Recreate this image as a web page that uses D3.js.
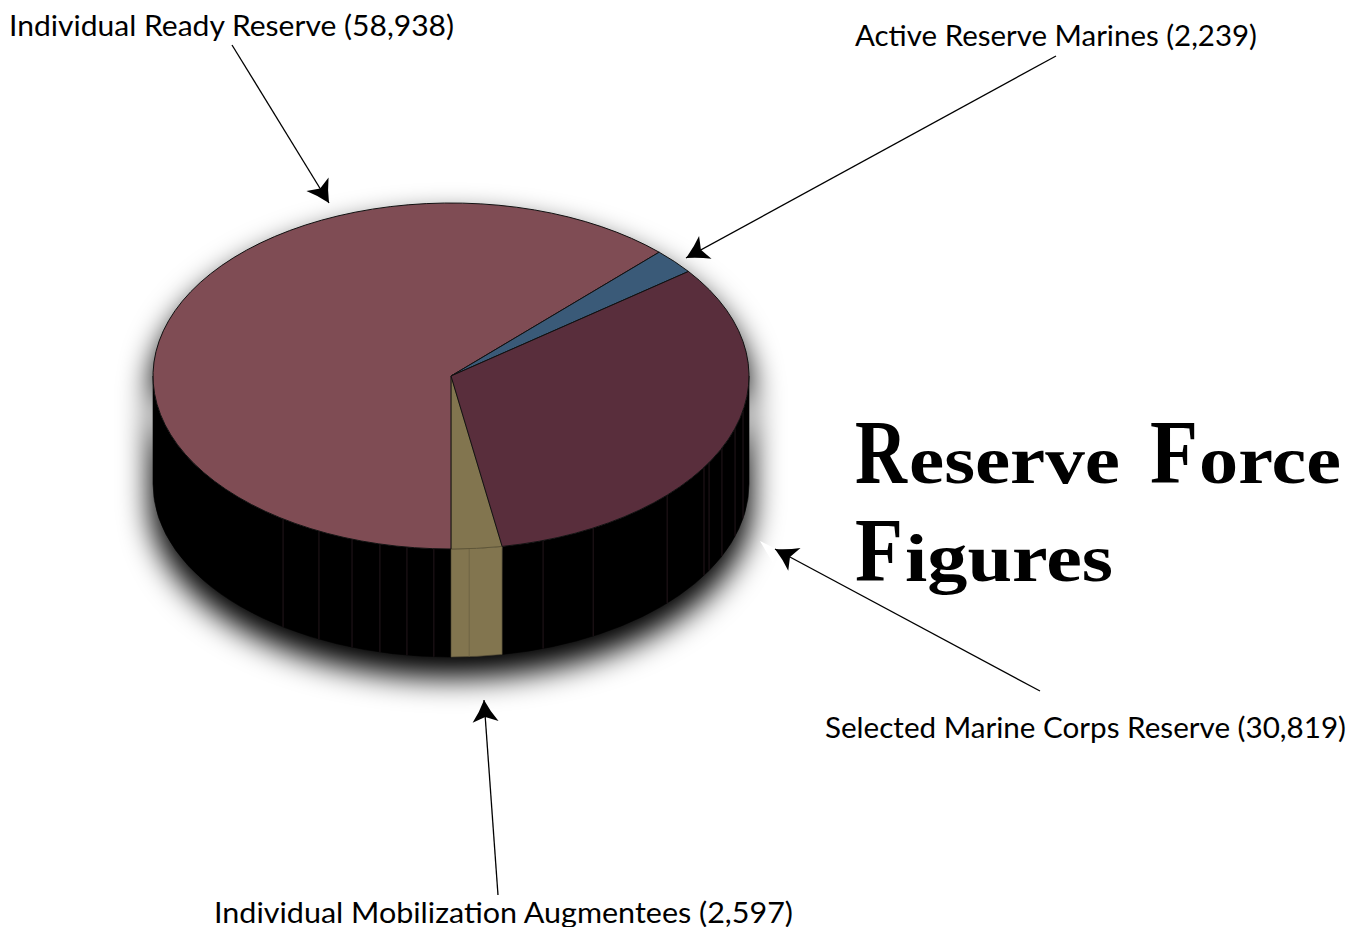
<!DOCTYPE html>
<html>
<head>
<meta charset="utf-8">
<title>Reserve Force Figures</title>
<script src="https://cdn.jsdelivr.net/npm/d3@7"></script>
<style>
  html, body { margin: 0; padding: 0; background: #fff; overflow: hidden; }
  svg { display: block; }
  .label { font-family: Lato, "Noto Sans", sans-serif; fill: #000; }
  .title { font-family: "Liberation Serif", serif; font-weight: bold; fill: #000; }
</style>
</head>
<body>
<div id="chart"></div>
<script>
// slice data, in the order they run clockwise from the bottom of the pie
const names = ['Individual Ready Reserve', 'Active Reserve Marines', 'Selected Marine Corps Reserve', 'Individual Mobilization Augmentees'];
const values = [58938, 2239, 30819, 2597];
const colors = ['#7f4c54', '#3a5a78', '#592e3c', '#82754f'];

// faint panel seams on the wall, degrees clockwise from the top of the pie
const seamAngles = [101.5, 107.6, 114.6, 120, 121.9, 133.5, 151.5, 162, 176.5, 183.3, 188.5, 193.8, 199.4, 206.3, 214.3];

// layout
const width = 1357, height = 927;
const cx = 451, cy = 376, rx = 298, ry = 173, depth = 108;

// label text position + the arrow that belongs to it
const callouts = [
    {index: 0, x: 9, y: 36, len: 445, from: [232, 45], tip: [329, 203]},
    {index: 1, x: 855, y: 46, len: 402, from: [1056, 56], tip: [686, 258]},
    {index: 2, x: 825, y: 738, len: 521, from: [1040, 691], tip: [775, 549]},
    {index: 3, x: 214, y: 923, len: 579, from: [498, 895], tip: [484, 700]}
];

// title is set in runs, big capitals and a smaller run after them
const titleRuns = [
    {text: 'R', x: 855, y: 483, len: 52, size: 90},
    {text: 'eserve', x: 909, y: 483, len: 211, size: 68},
    {text: 'F', x: 1150, y: 483, len: 48, size: 90},
    {text: 'orce', x: 1199, y: 483, len: 142, size: 68},
    {text: 'F', x: 855, y: 581, len: 48, size: 90},
    {text: 'igures', x: 905, y: 581, len: 208, size: 68}
];

const svg = d3.select("#chart").append("svg")
    .attr("width", width)
    .attr("height", height);

const blur = svg.append("defs").append("filter")
    .attr("id", "shadow")
    .attr("x", "-20%").attr("y", "-20%")
    .attr("width", "140%").attr("height", "140%");
blur.append("feGaussianBlur").attr("stdDeviation", 15);

const arcs = d3.pie().sort(null).startAngle(Math.PI).endAngle(3 * Math.PI)(values);

// point on the rim for an angle measured clockwise from the top
function rim(angle, drop) {
    return [cx + rx * Math.sin(angle), cy - ry * Math.cos(angle) + drop];
}

// wall between two angles (a1 > a0), runs along the front of the pie
function wallPath(a0, a1) {
    const tl = rim(a0, 0), tr = rim(a1, 0), bl = rim(a0, depth), br = rim(a1, depth);
    return "M" + tl + "A" + rx + "," + ry + " 0 0 1 " + tr +
        "L" + br + "A" + rx + "," + ry + " 0 0 0 " + bl + "Z";
}

// shadow is the whole outline of the pie, blurred and dropped a little
svg.append("path")
    .attr("d", wallPath(Math.PI / 2, 3 * Math.PI / 2) +
        "M" + rim(Math.PI / 2, 0) + "A" + rx + "," + ry + " 0 0 0 " + rim(3 * Math.PI / 2, 0) + "Z")
    .attr("transform", "translate(0,18)")
    .attr("fill", "#000")
    .attr("stroke", "#000")
    .attr("stroke-width", 6)
    .attr("filter", "url(#shadow)");

// walls, only the part of each slice that faces the front
const walls = svg.append("g").attr("id", "walls");
arcs.forEach((d, i) => {
    for (const k of [0, 2]) {
        const a0 = Math.max(d.startAngle, Math.PI / 2 + k * Math.PI);
        const a1 = Math.min(d.endAngle, 3 * Math.PI / 2 + k * Math.PI);
        if (a1 <= a0) continue;
        walls.append("path")
            .attr("d", wallPath(a0, a1))
            .attr("fill", i === 3 ? colors[3] : "#000")
            .attr("stroke", i === 3 ? "#4a4330" : "#000")
            .attr("stroke-width", 0.6);
    }
});

walls.selectAll("line.seam")
    .data(seamAngles)
    .enter()
    .append("line")
    .attr("class", "seam")
    .attr("x1", d => rim(d * Math.PI / 180, 0)[0])
    .attr("y1", d => rim(d * Math.PI / 180, 0)[1])
    .attr("x2", d => rim(d * Math.PI / 180, depth)[0])
    .attr("y2", d => rim(d * Math.PI / 180, depth)[1])
    .attr("stroke", d => d === 176.5 ? "#6a5f42" : "#2c1c22")
    .attr("stroke-width", 0.8);

// top face, d3.arc squashed into an ellipse. tan goes first so its neighbour's edge stays dark
const arc = d3.arc().innerRadius(0).outerRadius(rx);
svg.append("g")
    .attr("id", "top")
    .attr("transform", "translate(" + cx + "," + cy + ") scale(1," + (ry / rx) + ")")
    .selectAll("path")
    .data([arcs[3], arcs[0], arcs[1], arcs[2]])
    .enter()
    .append("path")
    .attr("d", arc)
    .attr("fill", d => colors[d.index])
    .attr("stroke", d => d.index === 3 ? "#5f5638" : "#111")
    .attr("stroke-width", 1)
    .attr("vector-effect", "non-scaling-stroke");

// white sliver left over next to the selected reserve arrow
svg.append("polygon")
    .attr("points", "760,541 776,549 773,563")
    .attr("fill", "#fff");

// arrows
function arrowHead(from, tip) {
    const dx = from[0] - tip[0], dy = from[1] - tip[1];
    const n = Math.hypot(dx, dy), ux = dx / n, uy = dy / n;
    const pt = (along, side) => [tip[0] + ux * along - uy * side, tip[1] + uy * along + ux * side];
    return "M" + pt(0, 0) + "Q" + pt(12, 5.5) + " " + pt(22, 13) + "L" + pt(17, 0) +
        "L" + pt(22, -13) + "Q" + pt(12, -5.5) + " " + pt(0, 0) + "Z";
}

const arrows = svg.append("g").attr("id", "arrows");
arrows.selectAll("line")
    .data(callouts)
    .enter()
    .append("line")
    .attr("x1", d => d.from[0])
    .attr("y1", d => d.from[1])
    .attr("x2", d => d.tip[0])
    .attr("y2", d => d.tip[1])
    .attr("stroke", "#000")
    .attr("stroke-width", 1.3);
arrows.selectAll("path")
    .data(callouts)
    .enter()
    .append("path")
    .attr("d", d => arrowHead(d.from, d.tip))
    .attr("fill", "#000");

// labels
svg.selectAll("text.label")
    .data(callouts)
    .enter()
    .append("text")
    .attr("class", "label")
    .attr("x", d => d.x)
    .attr("y", d => d.y)
    .attr("font-size", 28.5)
    .attr("textLength", d => d.len)
    .attr("lengthAdjust", "spacingAndGlyphs")
    .text(d => names[d.index] + " (" + d3.format(",")(values[d.index]) + ")");

// title, each run squeezed to its measured width
svg.selectAll("text.title")
    .data(titleRuns)
    .enter()
    .append("text")
    .attr("class", "title")
    .attr("font-size", d => d.size)
    .text(d => d.text)
    .attr("transform", function (d) {
        return "translate(" + d.x + "," + d.y + ") scale(" + (d.len / this.getComputedTextLength()) + ",1)";
    });
</script>
</body>
</html>
